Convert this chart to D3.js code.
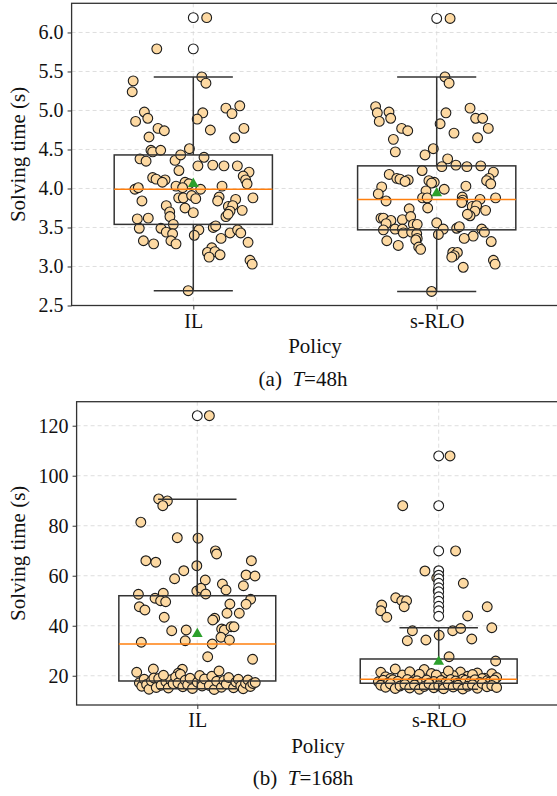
<!DOCTYPE html>
<html>
<head>
<meta charset="utf-8">
<script src="https://cdn.jsdelivr.net/npm/d3@7"></script>
<style>
  html, body { margin: 0; padding: 0; background: #fff; }
  svg { display: block; font-family: "Liberation Serif", "Times New Roman", serif; }
</style>
</head>
<body>
<div id="chart"></div>
<script>
// Categories and tick labels
var categories = ["IL", "s-RLO"];
var ticks48 = [2.5, 3.0, 3.5, 4.0, 4.5, 5.0, 5.5, 6.0];
var ticks168 = [20, 40, 60, 80, 100, 120];

// Strip points, [jitter (category units), solving time]
var pointsIL48 = [
  [0.055, 6.19], [-0.150, 5.79], [-0.247, 5.38], [-0.251, 5.24], [0.035, 5.43], [0.052, 5.35],
  [-0.201, 4.98], [-0.187, 4.90], [-0.237, 4.86], [0.039, 4.97], [0.016, 4.89], [0.134, 5.03],
  [0.159, 4.96], [0.191, 5.06], [-0.145, 4.77], [-0.119, 4.74], [0.070, 4.75], [0.208, 4.77],
  [-0.182, 4.66], [0.170, 4.65], [-0.174, 4.49], [-0.167, 4.47], [-0.134, 4.49], [-0.016, 4.51],
  [-0.219, 4.38], [-0.194, 4.35], [-0.075, 4.36], [-0.052, 4.43], [0.044, 4.40], [0.019, 4.29],
  [0.080, 4.30], [0.126, 4.29], [0.181, 4.29], [-0.059, 4.23], [-0.167, 4.14], [-0.153, 4.12],
  [-0.116, 4.11], [-0.127, 4.08], [0.229, 4.21], [0.205, 4.16], [0.215, 4.11], [0.221, 4.06],
  [-0.240, 3.99], [-0.226, 4.01], [-0.071, 4.03], [-0.034, 4.08], [-0.018, 4.06], [-0.044, 4.01],
  [0.030, 3.99], [0.118, 4.03], [-0.211, 3.84], [-0.060, 3.88], [-0.041, 3.88], [-0.007, 3.91],
  [0.010, 3.87], [0.106, 3.89], [0.100, 3.84], [0.174, 3.86], [0.245, 3.88], [-0.111, 3.78],
  [-0.097, 3.70], [-0.096, 3.64], [-0.082, 3.54], [-0.034, 3.75], [0.000, 3.69], [0.144, 3.77],
  [0.162, 3.78], [0.151, 3.71], [0.201, 3.72], [0.134, 3.64], [0.143, 3.67], [-0.230, 3.61],
  [-0.185, 3.62], [-0.222, 3.49], [-0.133, 3.49], [-0.111, 3.44], [-0.085, 3.42], [0.023, 3.47],
  [0.004, 3.40], [0.082, 3.50], [0.092, 3.52], [0.151, 3.43], [0.182, 3.47], [0.195, 3.43],
  [-0.205, 3.33], [-0.163, 3.29], [-0.092, 3.33], [-0.071, 3.29], [0.114, 3.36], [0.225, 3.31],
  [0.076, 3.24], [0.058, 3.18], [0.089, 3.19], [0.110, 3.15], [0.065, 3.12], [0.233, 3.08],
  [0.242, 3.03], [-0.021, 2.69]
];
var pointsRLO48 = [
  [0.055, 6.18], [0.034, 5.43], [0.051, 5.35], [-0.251, 5.05], [-0.244, 4.97], [-0.236, 4.86],
  [-0.196, 4.98], [-0.189, 4.90], [0.038, 4.97], [0.014, 4.83], [0.137, 5.03], [0.160, 4.90],
  [0.189, 4.90], [0.212, 4.77], [-0.144, 4.77], [-0.119, 4.74], [0.071, 4.71], [-0.178, 4.63],
  [0.168, 4.65], [-0.170, 4.47], [-0.014, 4.51], [-0.048, 4.43], [0.045, 4.38], [0.021, 4.28],
  [0.079, 4.30], [0.124, 4.28], [0.181, 4.29], [-0.060, 4.23], [0.233, 4.21], [-0.195, 4.18],
  [-0.164, 4.13], [-0.151, 4.12], [-0.117, 4.11], [-0.130, 4.09], [0.215, 4.13], [0.205, 4.10],
  [0.222, 4.06], [-0.032, 4.10], [-0.010, 4.08], [-0.021, 4.07], [-0.226, 4.02], [-0.240, 3.93],
  [0.031, 3.99], [-0.044, 3.97], [0.120, 4.03], [0.105, 3.89], [0.107, 3.85], [0.178, 3.86],
  [0.242, 3.88], [-0.058, 3.88], [-0.039, 3.88], [-0.208, 3.84], [0.103, 3.82], [-0.037, 3.75],
  [-0.113, 3.74], [0.146, 3.77], [0.164, 3.78], [0.157, 3.71], [0.137, 3.65], [0.126, 3.67],
  [0.201, 3.72], [-0.229, 3.62], [-0.219, 3.62], [-0.188, 3.59], [-0.208, 3.55], [-0.141, 3.60],
  [-0.107, 3.64], [-0.096, 3.54], [-0.080, 3.54], [-0.171, 3.48], [-0.141, 3.48], [-0.137, 3.43],
  [-0.103, 3.44], [-0.082, 3.42], [-0.080, 3.36], [-0.219, 3.47], [0.000, 3.56], [0.027, 3.48],
  [0.007, 3.41], [0.082, 3.49], [0.093, 3.51], [0.185, 3.48], [0.196, 3.44], [0.150, 3.39],
  [0.113, 3.36], [0.224, 3.32], [-0.205, 3.33], [-0.158, 3.27], [-0.086, 3.34], [-0.074, 3.25],
  [-0.066, 3.22], [0.066, 3.18], [0.085, 3.18], [0.072, 3.14], [0.062, 3.12], [0.233, 3.08],
  [0.240, 3.03], [0.109, 2.99], [-0.021, 2.68]
];
var pointsIL168 = [
  [0.050, 124.0], [-0.160, 90.7], [-0.124, 89.9], [-0.143, 88.0], [-0.234, 81.4], [-0.083, 75.2],
  [0.003, 75.0], [0.075, 69.9], [0.080, 68.7], [-0.213, 66.0], [-0.172, 65.4], [0.224, 66.0],
  [-0.002, 64.0], [-0.056, 62.0], [-0.094, 58.8], [0.033, 58.3], [0.202, 60.3], [0.239, 59.9],
  [0.104, 56.7], [0.119, 54.3], [0.191, 56.0], [-0.002, 53.9], [0.015, 55.0], [0.035, 52.7],
  [-0.244, 52.6], [-0.175, 51.0], [-0.141, 53.0], [-0.152, 50.0], [-0.131, 49.6], [-0.240, 47.6],
  [-0.217, 46.3], [0.221, 50.6], [0.202, 48.6], [0.135, 48.7], [0.123, 45.0], [0.174, 45.0],
  [-0.137, 43.4], [0.072, 43.0], [0.064, 42.3], [-0.106, 38.0], [-0.046, 38.3], [0.101, 38.7],
  [0.112, 38.3], [0.140, 39.6], [0.152, 39.6], [-0.050, 34.0], [0.098, 35.4], [0.133, 34.3],
  [-0.232, 33.4], [0.062, 32.7], [0.043, 27.6], [0.229, 26.6], [-0.182, 22.7], [-0.062, 22.6],
  [-0.251, 21.4], [-0.079, 21.0],
  [-0.24, 17.2], [-0.23, 15.8], [-0.22, 18.6], [-0.21, 16.5], [-0.20, 14.6], [-0.19, 17.9],
  [-0.18, 19.1], [-0.17, 15.3], [-0.16, 18.9], [-0.15, 16.2], [-0.13, 17.6], [-0.12, 15.1],
  [-0.11, 18.4], [-0.10, 16.8], [-0.09, 19.5], [-0.08, 17.1], [-0.07, 20.6], [-0.06, 15.6],
  [-0.05, 18.2], [-0.04, 16.4], [-0.03, 19.0], [-0.02, 14.9], [0.00, 17.4], [0.01, 20.1],
  [0.02, 15.9], [0.03, 18.7], [0.05, 16.1], [0.06, 19.8], [0.07, 14.5], [0.08, 17.8],
  [0.10, 15.4], [0.11, 18.1], [0.12, 16.7], [0.13, 19.3], [0.15, 15.2], [0.16, 17.5],
  [0.17, 18.6], [0.18, 16.0], [0.19, 14.8], [0.20, 17.0], [0.21, 18.3], [0.22, 15.7],
  [0.23, 16.9], [0.24, 17.3], [-0.14, 20.2], [0.09, 21.9]
];
var pointsRLO168 = [
  [0.047, 107.9], [-0.149, 88.0], [0.070, 69.9], [-0.057, 61.9], [-0.008, 59.2], [0.102, 57.0],
  [-0.002, 53.9], [-0.178, 51.2], [-0.153, 50.0], [-0.133, 50.0], [-0.143, 47.6], [-0.236, 48.3],
  [-0.240, 46.0], [-0.215, 43.4], [0.201, 47.6], [0.120, 43.9], [0.220, 39.2], [-0.109, 38.0],
  [0.058, 38.0], [0.091, 38.9], [-0.130, 34.0], [-0.053, 34.3], [0.002, 36.2], [0.137, 34.7],
  [0.043, 27.6], [0.236, 25.9],
  [-0.24, 21.4], [-0.18, 22.7], [-0.06, 22.5], [0.09, 21.5], [0.22, 20.8], [-0.22, 19.6],
  [-0.15, 20.3], [-0.10, 19.2], [-0.03, 20.9], [0.02, 19.4], [0.06, 20.1], [0.12, 19.8],
  [0.16, 21.1], [0.19, 19.0], [-0.20, 18.9], [-0.12, 21.6], [0.00, 18.8], [0.04, 21.9],
  [0.10, 18.7], [0.14, 20.5], [-0.08, 20.6], [0.24, 19.3], [-0.01, 20.3], [0.18, 18.9],
  [-0.25, 17.6], [-0.23, 18.2], [-0.21, 17.1], [-0.19, 18.4], [-0.17, 17.8], [-0.14, 17.3],
  [-0.13, 18.5], [-0.11, 17.5], [-0.09, 18.0], [-0.07, 17.2], [-0.05, 18.3], [-0.02, 17.7],
  [0.01, 18.1], [0.03, 17.4], [0.05, 18.5], [0.07, 17.9], [0.08, 17.1], [0.11, 18.2],
  [0.13, 17.6], [0.15, 18.4], [0.17, 17.3], [0.20, 18.0], [0.21, 17.5], [0.23, 18.3],
  [-0.04, 17.0],
  [-0.24, 16.2], [-0.22, 15.4], [-0.20, 16.7], [-0.18, 14.9], [-0.16, 15.9], [-0.14, 16.5],
  [-0.12, 15.1], [-0.10, 16.3], [-0.08, 14.6], [-0.06, 15.7], [-0.04, 16.8], [-0.02, 15.2],
  [0.00, 16.0], [0.02, 14.8], [0.04, 16.6], [0.06, 15.5], [0.08, 16.2], [0.10, 14.7],
  [0.12, 15.8], [0.14, 16.4], [0.16, 15.0], [0.18, 16.9], [0.20, 15.6], [0.22, 16.1],
  [0.24, 15.3]
];

// Box statistics per category: [IL, s-RLO]
var low48 = [2.69, 2.68], q1_48 = [3.54, 3.47], median48 = [3.99, 3.86], q3_48 = [4.43, 4.29], high48 = [5.43, 5.43];
var mean48 = [4.06, 3.94];
var fliers48 = [[6.19, 5.79], [6.18]];
var low168 = [14.8, 14.6], q1_168 = [17.9, 17.0], median168 = [32.7, 18.6], q3_168 = [52.0, 26.7], high168 = [90.6, 39.2];
var mean168 = [36.7, 25.6];
var fliers168 = [[124.0], [107.9, 88.0, 69.9, 62.0, 60.2, 58.8, 57.0, 55.2, 53.6, 51.6, 49.8, 47.8, 46.0, 43.8]];

var W = 557, H = 796;

var svg = d3.select("#chart").append("svg")
  .attr("width", W)
  .attr("height", H);

function drawPanel(p) {
  var x = d3.scaleLinear().domain([-0.5, 1.5]).range([p.left, p.right]);
  var y = d3.scaleLinear().domain(p.domain).range([p.bottom, p.top]);
  var g = svg.append("g");

  // Grid
  g.selectAll(".hgrid").data(p.ticks).enter().append("line")
    .attr("x1", p.left).attr("x2", p.right)
    .attr("y1", function(d) { return y(d); }).attr("y2", function(d) { return y(d); })
    .attr("stroke", "#d6d6d6").attr("stroke-width", 0.8).attr("stroke-dasharray", "4,3");
  g.selectAll(".vgrid").data(categories).enter().append("line")
    .attr("x1", function(d, i) { return x(i); }).attr("x2", function(d, i) { return x(i); })
    .attr("y1", p.top).attr("y2", p.bottom)
    .attr("stroke", "#d6d6d6").attr("stroke-width", 0.8).attr("stroke-dasharray", "4,3");

  // Jittered points
  p.points.forEach(function(pts, i) {
    g.append("g").selectAll("circle").data(pts).enter().append("circle")
      .attr("cx", function(d) { return x(i + d[0]); })
      .attr("cy", function(d) { return y(d[1]); })
      .attr("r", 4.9)
      .attr("fill", "#fdd9a2")
      .attr("stroke", "#1c1c1c")
      .attr("stroke-width", 1.1);
  });

  // Boxes
  var half = 0.325, cap = 0.1625;
  categories.forEach(function(c, i) {
    var b = g.append("g");
    b.append("rect")
      .attr("x", x(i - half)).attr("width", x(i + half) - x(i - half))
      .attr("y", y(p.q3[i])).attr("height", y(p.q1[i]) - y(p.q3[i]))
      .attr("fill", "none").attr("stroke", "#333").attr("stroke-width", 1.5);
    [[p.q3[i], p.high[i]], [p.q1[i], p.low[i]]].forEach(function(w) {
      b.append("line")
        .attr("x1", x(i)).attr("x2", x(i))
        .attr("y1", y(w[0])).attr("y2", y(w[1]))
        .attr("stroke", "#333").attr("stroke-width", 1.5);
      b.append("line")
        .attr("x1", x(i - cap)).attr("x2", x(i + cap))
        .attr("y1", y(w[1])).attr("y2", y(w[1]))
        .attr("stroke", "#333").attr("stroke-width", 1.5);
    });
    b.append("line")
      .attr("x1", x(i - half)).attr("x2", x(i + half))
      .attr("y1", y(p.median[i])).attr("y2", y(p.median[i]))
      .attr("stroke", "#ff7f0e").attr("stroke-width", 1.5);
    b.selectAll(".flier").data(p.fliers[i]).enter().append("circle")
      .attr("cx", x(i))
      .attr("cy", function(d) { return y(d); })
      .attr("r", 4.9)
      .attr("fill", "#fff")
      .attr("stroke", "#1c1c1c")
      .attr("stroke-width", 1.1);
    b.append("path")
      .attr("d", d3.symbol(d3.symbolTriangle, 50)())
      .attr("transform", "translate(" + x(i) + "," + y(p.mean[i]) + ")")
      .attr("fill", "#2ca02c");
  });

  // Axes
  var yAxis = g.append("g")
    .attr("transform", "translate(" + p.left + ",0)")
    .call(d3.axisLeft(y).tickValues(p.ticks).tickFormat(p.format).tickSize(4).tickPadding(4));
  var xAxis = g.append("g")
    .attr("transform", "translate(0," + p.bottom + ")")
    .call(d3.axisBottom(x).tickValues([0, 1]).tickFormat(function(d) { return categories[d]; }).tickSize(4));
  [yAxis, xAxis].forEach(function(a) {
    a.select(".domain").remove();
    a.selectAll(".tick line").attr("stroke", "#333").attr("stroke-width", 1);
    a.selectAll(".tick text")
      .attr("font-family", "Liberation Serif, serif")
      .attr("font-size", 20)
      .attr("fill", "#111");
  });
  yAxis.selectAll(".tick text").attr("x", -8);
  xAxis.selectAll(".tick text").attr("y", 22).attr("dy", 0);

  // Frame
  g.append("rect")
    .attr("x", p.left).attr("y", p.top)
    .attr("width", p.right - p.left).attr("height", p.bottom - p.top)
    .attr("fill", "none").attr("stroke", "#333").attr("stroke-width", 1.3);

  // Labels
  svg.append("text")
    .attr("transform", "translate(25," + ((p.top + p.bottom) / 2) + ") rotate(-90)")
    .attr("text-anchor", "middle")
    .attr("font-size", 21)
    .attr("fill", "#111")
    .text("Solving time (s)");
  svg.append("text")
    .attr("x", (p.left + p.right) / 2)
    .attr("y", p.bottom + 47.5)
    .attr("text-anchor", "middle")
    .attr("font-size", 21)
    .attr("fill", "#111")
    .text("Policy");

  var caption = svg.append("text")
    .attr("x", 303)
    .attr("y", p.bottom + 80)
    .attr("text-anchor", "middle")
    .attr("font-size", 21)
    .attr("fill", "#111");
  caption.append("tspan").text(p.tag + "\u2002");
  caption.append("tspan").attr("font-style", "italic").text("T");
  caption.append("tspan").text("=" + p.hours);
}

drawPanel({
  left: 71.6, right: 558.4, top: 3.3, bottom: 305.5,
  domain: [2.5, 6.374], ticks: ticks48, format: d3.format(".1f"),
  points: [pointsIL48, pointsRLO48],
  low: low48, q1: q1_48, median: median48, q3: q3_48, high: high48, mean: mean48, fliers: fliers48,
  tag: "(a)", hours: "48h"
});

drawPanel({
  left: 76.6, right: 559.4, top: 401.7, bottom: 705,
  domain: [8.3, 129.6], ticks: ticks168, format: d3.format("d"),
  points: [pointsIL168, pointsRLO168],
  low: low168, q1: q1_168, median: median168, q3: q3_168, high: high168, mean: mean168, fliers: fliers168,
  tag: "(b)", hours: "168h"
});
</script>
</body>
</html>
